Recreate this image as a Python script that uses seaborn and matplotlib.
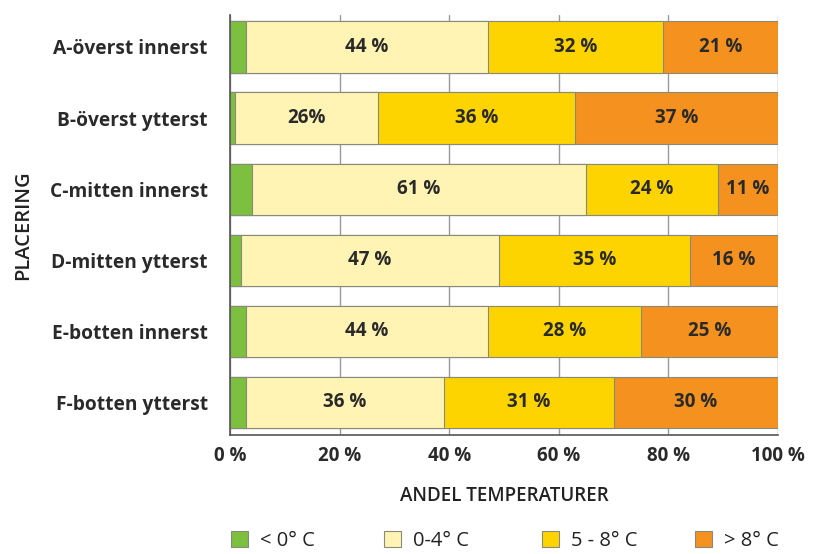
import matplotlib
matplotlib.use("Agg")
import matplotlib.pyplot as plt
from matplotlib.patches import Patch
import numpy as np
import pandas as pd
import seaborn as sns

# Temperature share per placement (percent)
placements = ["A-överst innerst", "B-överst ytterst", "C-mitten innerst",
              "D-mitten ytterst", "E-botten innerst", "F-botten ytterst"]
below_0 = [3, 1, 4, 2, 3, 3]
t_0_4 = [44, 26, 61, 47, 44, 36]
t_5_8 = [32, 36, 24, 35, 28, 31]
above_8 = [21, 37, 11, 16, 25, 30]

label_0_4 = ["44 %", "26%", "61 %", "47 %", "44 %", "36 %"]
label_5_8 = ["32 %", "36 %", "24 %", "35 %", "28 %", "31 %"]
label_8 = ["21 %", "37 %", "11 %", "16 %", "25 %", "30 %"]

legend_labels = ["< 0° C", "0-4° C", "5 - 8° C", "> 8° C"]
colors = ["#7dbf3f", "#fff4b3", "#fdd400", "#f5911e"]
tick_vals = [0, 20, 40, 60, 80, 100]
tick_labels = ["0 %", "20 %", "40 %", "60 %", "80 %", "100 %"]

sns.set_theme(style="white")
plt.rcParams["font.family"] = ["Open Sans", "DejaVu Sans"]

series = [below_0, t_0_4, t_5_8, above_8]
cum = np.cumsum(np.array(series, dtype=float), axis=0)
df = pd.DataFrame({"placering": placements})
for i in range(4):
    df[f"c{i}"] = cum[i]

fig = plt.figure(figsize=(8.16, 5.54), dpi=100)
ax = fig.add_axes([230 / 816, 1 - 435 / 554, 548 / 816, 420 / 554])

# stacked bars: draw cumulative totals from the widest down
for i in range(3, -1, -1):
    sns.barplot(data=df, x=f"c{i}", y="placering", orient="y", color=colors[i],
                saturation=1, width=0.72, edgecolor="#8a8a7a", linewidth=0.8,
                ax=ax, zorder=2)

# value labels centred in their segments
for j in range(len(placements)):
    for i, labels in zip([1, 2, 3], [label_0_4, label_5_8, label_8]):
        start = cum[i - 1][j]
        mid = start + series[i][j] / 2
        ax.text(mid, j, labels[j], ha="center", va="center", fontsize=13.5,
                fontweight="bold", color="#2a2a2a", zorder=3)

ax.set_xlim(0, 100)
ax.set_ylim(5.46, -0.45)
ax.set_xticks(tick_vals)
ax.set_xticklabels(tick_labels, fontsize=13.5, fontweight="bold", color="#2a2a2a")
ax.tick_params(axis="x", length=0, pad=8)
ax.tick_params(axis="y", length=0, pad=16)
for lbl in ax.get_yticklabels():
    lbl.set_fontsize(13.8)
    lbl.set_fontweight("bold")
    lbl.set_color("#2a2a2a")
ax.grid(axis="x", color="#9a9a9a", linewidth=1.0, zorder=0)
ax.grid(axis="y", visible=False)
ax.set_axisbelow(True)
for side in ["top", "right"]:
    ax.spines[side].set_visible(False)
for side in ["left", "bottom"]:
    ax.spines[side].set_color("#555555")
    ax.spines[side].set_linewidth(1.2)

ax.set_xlabel("ANDEL TEMPERATURER", fontsize=13.5, fontweight="semibold",
              color="#222222", labelpad=14)
ax.set_ylabel("PLACERING", fontsize=14.5, fontweight="semibold", color="#222222")
ax.yaxis.set_label_coords((33 - 230) / 548, 0.5)

# legend entries placed one by one along the bottom
legend_x = [231, 384, 542, 695]
for c, lab, x in zip(colors, legend_labels, legend_x):
    h = Patch(facecolor=c, edgecolor="#8a8a7a", linewidth=0.8)
    fig.legend([h], [lab], loc="center left", frameon=False, borderpad=0,
               borderaxespad=0, bbox_to_anchor=(x / 816, 1 - 541 / 554),
               fontsize=14.5, handlelength=0.85, handleheight=0.85,
               handletextpad=0.6, labelcolor="#222222")

fig.savefig("out.png", dpi=100)
